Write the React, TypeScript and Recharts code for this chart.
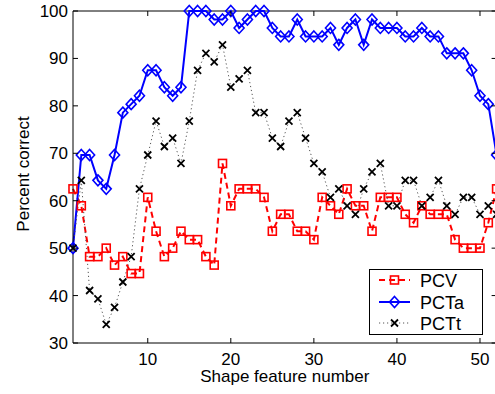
import React from 'react';
import { LineChart, Line, XAxis, YAxis, ReferenceLine, Legend } from 'recharts';

const featureNumbers = [
  1, 2, 3, 4, 5, 6, 7, 8, 9, 10, 11, 12, 13, 14, 15, 16, 17, 18, 19, 20, 21, 22, 23, 24, 25, 26,
  27, 28, 29, 30, 31, 32, 33, 34, 35, 36, 37, 38, 39, 40, 41, 42, 43, 44, 45, 46, 47, 48, 49, 50, 51, 52,
];

const pcv = [
  62.5, 58.93, 48.21, 48.21, 50.0, 46.43, 48.21, 44.64, 44.64, 60.71, 53.57, 48.21, 50.0, 53.57, 51.79, 51.79,
  48.21, 46.43, 67.86, 58.93, 62.5, 62.5, 62.5, 60.71, 53.57, 57.14, 57.14, 53.57, 53.57, 51.79, 60.71, 58.93,
  57.14, 62.5, 58.93, 58.93, 53.57, 60.71, 60.71, 60.71, 57.14, 55.36, 58.93, 57.14, 57.14, 57.14, 51.79, 50.0,
  50.0, 50.0, 55.36, 62.5,
];

const pcta = [
  50.0, 69.64, 69.64, 64.29, 62.5, 69.64, 78.57, 80.36, 82.14, 87.5, 87.5, 83.93, 82.14, 83.93, 100, 100,
  100, 98.21, 98.21, 100, 96.43, 98.21, 100, 100, 96.43, 94.64, 94.64, 98.21, 94.64, 94.64, 94.64, 96.43,
  92.86, 96.43, 98.21, 92.86, 98.21, 96.43, 96.43, 96.43, 94.64, 94.64, 96.43, 94.64, 94.64, 91.07, 91.07, 91.07,
  87.5, 82.14, 80.36, 69.64,
];

const pctt = [
  50.0, 64.29, 41.07, 39.29, 33.93, 37.5, 42.86, 48.21, 62.5, 69.64, 76.79, 71.43, 73.21, 67.86, 76.79, 87.5,
  91.07, 89.29, 92.86, 83.93, 85.71, 87.5, 78.57, 78.57, 73.21, 71.43, 76.79, 78.57, 73.21, 67.86, 66.07, 60.71,
  62.5, 58.93, 57.14, 62.5, 66.07, 67.86, 58.93, 58.93, 64.29, 64.29, 58.93, 60.71, 64.29, 58.93, 57.14, 60.71,
  60.71, 57.14, 58.93, 57.14,
];

const xTicks = [10, 20, 30, 40, 50];
const yTicks = [30, 40, 50, 60, 70, 80, 90, 100];
const xDomain = [1, 52];
const yDomain = [30, 100];
const seriesNames = ['PCV', 'PCTa', 'PCTt'];

const data = featureNumbers.map((f, i) => ({
  feature: f,
  PCV: pcv[i],
  PCTa: pcta[i],
  PCTt: pctt[i],
}));

const FONT = '"Liberation Sans", Arial, Helvetica, sans-serif';
const W = 498;
const H = 394;
const PL = 73;
const MR = 1.4;
const PR = W - MR;
const PT = 11;
const PB = 343;
const RED = '#ff0000';
const BLUE = '#0000ff';

const XTick = (props: any) => {
  const { x, payload } = props;
  return (
    <g>
      <line x1={x} x2={x} y1={PB} y2={PB - 5} stroke="#000" strokeWidth={1} />
      <line x1={x} x2={x} y1={PT} y2={PT + 5} stroke="#000" strokeWidth={1} />
      <text x={x} y={PB + 22} textAnchor="middle" fontFamily={FONT} fontSize={17} fill="#000">
        {payload.value}
      </text>
    </g>
  );
};

const YTick = (props: any) => {
  const { y, payload } = props;
  return (
    <g>
      <line x1={PL} x2={PL + 5} y1={y} y2={y} stroke="#000" strokeWidth={1} />
      <line x1={PR} x2={PR - 5} y1={y} y2={y} stroke="#000" strokeWidth={1} />
      <text x={PL - 5} y={y + 6} textAnchor="end" fontFamily={FONT} fontSize={17} fill="#000">
        {payload.value}
      </text>
    </g>
  );
};

const squareShape = (cx: number, cy: number, key?: any) => (
  <rect key={key} x={cx - 4} y={cy - 4} width={8} height={8} fill="none" stroke={RED} strokeWidth={1.6} />
);
const diamondShape = (cx: number, cy: number, key?: any) => (
  <path
    key={key}
    d={`M${cx},${cy - 5.5}L${cx + 5},${cy}L${cx},${cy + 5.5}L${cx - 5},${cy}Z`}
    fill="none"
    stroke={BLUE}
    strokeWidth={1.6}
  />
);
const crossShape = (cx: number, cy: number, key?: any) => (
  <path
    key={key}
    d={`M${cx - 3.5},${cy - 3.5}L${cx + 3.5},${cy + 3.5}M${cx - 3.5},${cy + 3.5}L${cx + 3.5},${cy - 3.5}`}
    fill="none"
    stroke="#000"
    strokeWidth={1.8}
  />
);

const SquareDot = (p: any) => squareShape(p.cx, p.cy, p.index);
const DiamondDot = (p: any) => diamondShape(p.cx, p.cy, p.index);
const CrossDot = (p: any) => crossShape(p.cx, p.cy, p.index);

const LegendBox = () => {
  const rows = [
    { name: seriesNames[0], color: RED, dash: '6 4', w: 2, shape: squareShape, y: 10 },
    { name: seriesNames[1], color: BLUE, dash: undefined, w: 2, shape: diamondShape, y: 32 },
    { name: seriesNames[2], color: '#555', dash: '1.2 2.8', w: 1, shape: crossShape, y: 53 },
  ];
  return (
    <div
      style={{
        width: 114,
        height: 66,
        boxSizing: 'border-box',
        border: '1px solid #000',
        background: '#fff',
      }}
    >
      <svg width={112} height={64} style={{ display: 'block' }}>
        {rows.map((r) => (
          <g key={r.name}>
            <line x1={9} x2={40} y1={r.y} y2={r.y} stroke={r.color} strokeWidth={r.w} strokeDasharray={r.dash} />
            {r.shape(24.5, r.y)}
            <text x={50} y={r.y + 6.5} fontFamily={FONT} fontSize={18} fill="#000">
              {r.name}
            </text>
          </g>
        ))}
      </svg>
    </div>
  );
};

export default function App() {
  return (
    <div
      style={{
        position: 'absolute',
        left: 0,
        top: 0,
        width: 495,
        height: 394,
        overflow: 'hidden',
        background: '#fff',
      }}
    >
      <LineChart width={W} height={H} data={data} margin={{ top: PT, right: MR, bottom: 0, left: 0 }}>
        <XAxis
          dataKey="feature"
          type="number"
          domain={xDomain}
          ticks={xTicks}
          interval={0}
          height={H - PB}
          tick={XTick}
          tickLine={false}
          axisLine={{ stroke: '#000', strokeWidth: 1 }}
          label={{
            content: () => (
              <text x={(PL + PR) / 2} y={PB + 39} textAnchor="middle" fontFamily={FONT} fontSize={17} fill="#000">
                Shape feature number
              </text>
            ),
          }}
        />
        <YAxis
          type="number"
          domain={yDomain}
          ticks={yTicks}
          interval={0}
          width={PL}
          tick={YTick}
          tickLine={false}
          axisLine={{ stroke: '#000', strokeWidth: 1 }}
          label={{
            content: () => (
              <text
                x={29}
                y={174}
                transform="rotate(-90, 29, 174)"
                textAnchor="middle"
                fontFamily={FONT}
                fontSize={17}
                fill="#000"
              >
                Percent correct
              </text>
            ),
          }}
        />
        <ReferenceLine y={100} stroke="#000" strokeWidth={1} />
        <ReferenceLine x={52} stroke="#000" strokeWidth={1} />
        <Line
          dataKey="PCV"
          stroke={RED}
          strokeWidth={2}
          strokeDasharray="6 4"
          dot={SquareDot}
          isAnimationActive={false}
        />
        <Line dataKey="PCTa" stroke={BLUE} strokeWidth={2} dot={DiamondDot} isAnimationActive={false} />
        <Line
          dataKey="PCTt"
          stroke="#555"
          strokeWidth={1}
          strokeDasharray="1.2 2.8"
          dot={CrossDot}
          isAnimationActive={false}
        />
        <Legend
          layout="vertical"
          align="center"
          verticalAlign="middle"
          width={114}
          height={66}
          wrapperStyle={{ position: 'absolute', left: 369, top: 269, width: 114, height: 66 }}
          content={() => <LegendBox />}
        />
      </LineChart>
    </div>
  );
}
